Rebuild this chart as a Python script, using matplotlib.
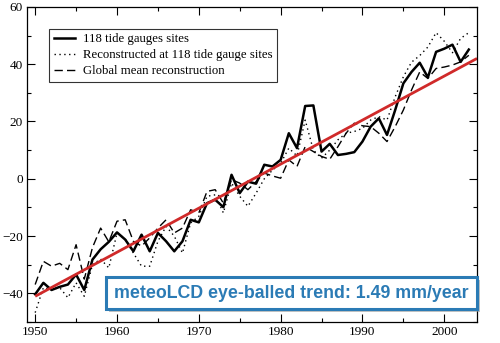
import matplotlib
matplotlib.use("Agg")
import matplotlib.pyplot as plt
from matplotlib.patches import Rectangle
from matplotlib.ticker import MultipleLocator
import numpy as np

years = np.arange(1950, 2004)

# 118 tide gauges sites (mm)
gauges = [-40.3, -36.3, -38.8, -37.7, -36.9, -33.4, -38.8, -28.2, -24.6, -22.0,
          -18.7, -21.2, -25.3, -19.5, -25.3, -18.9, -21.8, -25.3, -21.8, -14.3,
          -15.2, -8.5, -7.3, -9.9, 1.4, -5.0, -1.0, -1.7, 4.9, 4.3,
          6.6, 15.9, 10.7, 25.4, 25.6, 9.5, 12.2, 8.3, 8.7, 9.3,
          13.0, 18.2, 21.1, 15.3, 24.0, 33.3, 37.3, 40.5, 35.4, 44.3,
          45.4, 46.8, 40.8, 45.1]

# reconstructed at 118 tide gauge sites (mm)
recon_sites = [-46.7, -38.0, -38.6, -38.0, -41.5, -36.3, -41.0, -30.0, -28.0, -31.1,
               -18.9, -21.0, -25.9, -30.5, -30.5, -21.8, -16.6, -20.0, -25.9, -15.4,
               -13.1, -6.1, -5.6, -11.9, -1.5, -6.1, -9.6, -5.0, 0.0, 3.0,
               5.4, 10.7, 8.0, 20.5, 10.0, 7.2, 10.0, 13.6, 15.9, 16.5,
               17.6, 20.5, 21.7, 20.5, 28.6, 35.6, 40.7, 43.0, 46.0, 51.0,
               48.0, 44.0, 49.0, 51.0]

# global mean reconstruction (mm)
recon_global = [-36.9, -28.8, -30.5, -29.5, -31.7, -23.0, -35.0, -24.0, -17.2, -22.0,
                -14.8, -14.3, -21.8, -23.5, -20.6, -17.2, -14.3, -18.9, -17.2, -10.8,
                -11.9, -4.4, -3.8, -8.5, -0.3, -1.5, -3.8, -1.0, 2.0, 1.0,
                0.2, 6.6, 4.3, 11.2, 9.5, 7.8, 6.8, 11.2, 15.9, 19.4,
                18.5, 18.2, 15.9, 13.0, 18.2, 24.0, 31.0, 37.3, 35.0, 38.5,
                39.0, 39.7, 40.8, 43.1]

trend_years = [1950, 2004]
trend_vals = [-41.0, 42.0]

label_gauges = "118 tide gauges sites"
label_sites = "Reconstructed at 118 tide gauge sites"
label_global = "Global mean reconstruction"
trend_text = "meteoLCD eye-balled trend: 1.49 mm/year"

fig = plt.figure(figsize=(5, 3.43), dpi=100)
ax = fig.add_axes([0.054, 0.061, 0.900, 0.919])

ax.plot(years, gauges, color="k", lw=1.8, label=label_gauges)
ax.plot(years, recon_sites, color="k", lw=1.0, ls=(0, (1, 2.5)), label=label_sites)
ax.plot(years, recon_global, color="k", lw=1.0, ls=(0, (6, 3)), label=label_global)
ax.plot(trend_years, trend_vals, color="#d02a2a", lw=2.0, solid_capstyle="butt")

ax.set_xlim(1949, 2004)
ax.set_ylim(-50, 60)
ax.xaxis.set_major_locator(MultipleLocator(10))
ax.xaxis.set_minor_locator(MultipleLocator(5))
ax.yaxis.set_major_locator(MultipleLocator(20))
ax.yaxis.set_minor_locator(MultipleLocator(10))
ax.tick_params(which="both", direction="in", top=True, right=True, width=0.8)
ax.tick_params(which="major", length=6, pad=3)
ax.tick_params(which="minor", length=3)
for lab in ax.get_xticklabels() + ax.get_yticklabels():
    lab.set_family("Liberation Serif")
    lab.set_fontsize(9.5)
for sp in ax.spines.values():
    sp.set_linewidth(0.9)

leg = ax.legend(loc="upper left", bbox_to_anchor=(0.049, 0.93), frameon=True,
                fancybox=False, edgecolor="k", handlelength=1.7, handletextpad=0.6,
                borderpad=0.35, labelspacing=0.3, borderaxespad=0,
                prop={"family": "Liberation Serif", "size": 9.2})
leg.get_frame().set_linewidth(0.8)

# shadowed text box
bx, by, bw, bh = 106 / 500, 1 - 309 / 343, 371 / 500, 32 / 343
fig.patches.append(Rectangle((bx + 0.006, by - 0.01), bw, bh, transform=fig.transFigure,
                             facecolor="#9a9a9a", edgecolor="none", alpha=0.6, zorder=5))
fig.patches.append(Rectangle((bx, by), bw, bh, transform=fig.transFigure,
                             facecolor="white", edgecolor="#2b7bb5", lw=2.2, zorder=6))
fig.text(bx + bw / 2, by + bh / 2, trend_text, ha="center", va="center",
         family="Liberation Sans", weight="bold", fontsize=12.8, color="#2b7bb5", zorder=7)

fig.savefig("out.png", dpi=100)
